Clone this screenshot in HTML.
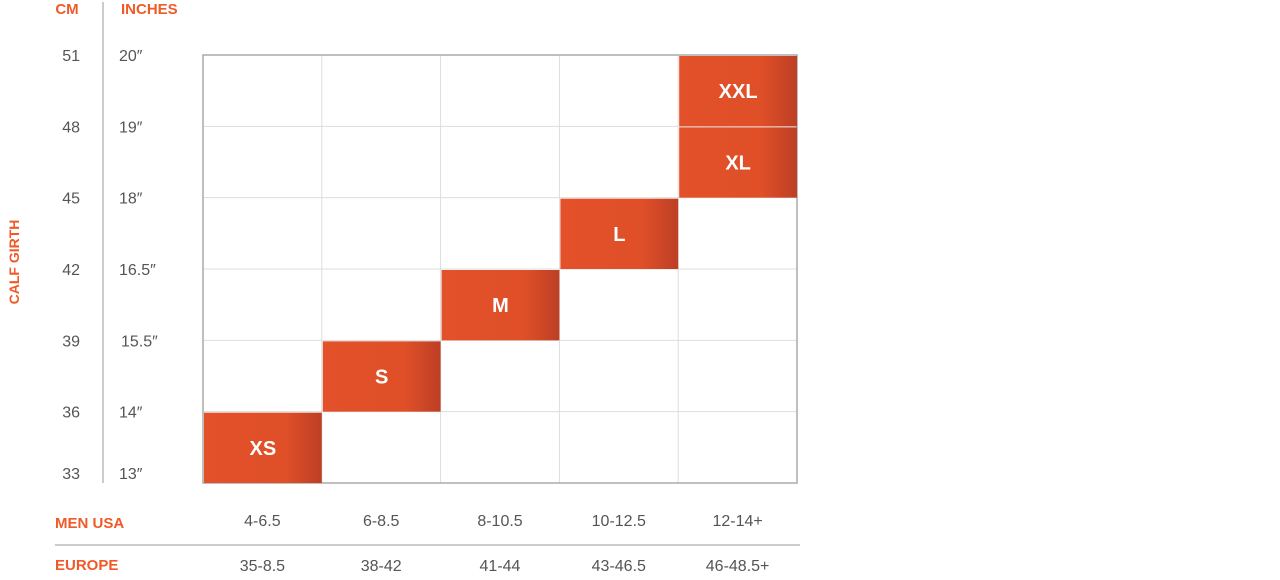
<!DOCTYPE html>
<html><head><meta charset="utf-8"><style>
body{margin:0;background:#fff;width:1280px;height:575px;overflow:hidden;font-family:"Liberation Sans",sans-serif}
</style></head><body>
<svg width="1280" height="575">
<defs><linearGradient id="g" x1="0" x2="1"><stop offset="0" stop-color="#e3512a"/><stop offset="0.7" stop-color="#df4f28"/><stop offset="1" stop-color="#bd3f25"/></linearGradient></defs>
<g id="grid"></g><g id="blocks"></g><g id="labels"></g>
<line x1="103" y1="2" x2="103" y2="483" stroke="#bbb" stroke-width="1.5"/>
<text x="67" y="14" text-anchor="middle" fill="#f05a28" font-weight="bold" font-size="15">CM</text>
<text x="121" y="14" fill="#f05a28" font-weight="bold" font-size="15">INCHES</text>
<text transform="translate(19,262) rotate(-90)" text-anchor="middle" fill="#f05a28" font-weight="bold" font-size="14">CALF GIRTH</text>
<text x="55" y="528" fill="#f05a28" font-weight="bold" font-size="15">MEN USA</text>
<line x1="55" y1="545" x2="800" y2="545" stroke="#bbb" stroke-width="1.5"/>
<text x="55" y="570" fill="#f05a28" font-weight="bold" font-size="15">EUROPE</text>
</svg>
<script>
const cmTicks=["33","36","39","42","45","48","51"];
const inTicks=["13″","14″","15.5″","16.5″","18″","19″","20″"];
const usaSizes=["4-6.5","6-8.5","8-10.5","10-12.5","12-14+"];
const euSizes=["35-8.5","38-42","41-44","43-46.5","46-48.5+"];
const sizeNames=["XS","S","M","L","XL","XXL"];
const sizeCols=[0,1,2,3,4,4];
const sizeRows=[0,1,2,3,4,5];
const NS="http://www.w3.org/2000/svg";
const X0=203,X1=797,Y0=483,Y1=55,nC=usaSizes.length,nR=cmTicks.length-1;
const xs=i=>X0+(X1-X0)*i/nC, ys=j=>Y0-(Y0-Y1)*j/nR;
function mk(p,t,a){const e=document.createElementNS(NS,t);for(const k in a)e.setAttribute(k,a[k]);p.appendChild(e);return e;}
const grid=document.getElementById('grid'),bl=document.getElementById('blocks'),lb=document.getElementById('labels');
for(let i=1;i<nC;i++){const l=mk(grid,'line',{x1:xs(i),y1:Y1,x2:xs(i),y2:Y0,stroke:'#ddd'});

}
for(let j=1;j<nR;j++){const l=mk(grid,'line',{x1:X0,y1:ys(j),x2:X1,y2:ys(j),stroke:'#ddd'});

}
const fr=mk(grid,'rect',{x:X0,y:Y1,width:X1-X0,height:Y0-Y1,fill:'none',stroke:'#aaa','stroke-width':1.5});


sizeNames.forEach((n,k)=>{const c=sizeCols[k],r=sizeRows[k];
const x=xs(c)+1,y=ys(r+1)+1,w=xs(c+1)-xs(c)-1,h=ys(r)-ys(r+1)-1;
const g=mk(bl,'g',{});


mk(g,'rect',{x,y,width:w,height:h,fill:'url(#g)'});
const t=mk(g,'text',{x:x+w/2,y:y+h/2+7,'text-anchor':'middle',fill:'#fff','font-weight':'bold','font-size':20});t.textContent=n;});
cmTicks.forEach((v,j)=>{const y=(j==0?473:ys(j))+6;
const t=mk(lb,'text',{x:80,y,'text-anchor':'end',fill:'#555','font-size':16});t.textContent=v;


const u=mk(lb,'text',{x:(v=="39"?121:119),y,fill:'#555','font-size':16});u.textContent=inTicks[j];

});
usaSizes.forEach((v,i)=>{const cx=(xs(i)+xs(i+1))/2;
const t=mk(lb,'text',{x:cx,y:526,'text-anchor':'middle',fill:'#555','font-size':16});t.textContent=v;


const u=mk(lb,'text',{x:cx,y:571,'text-anchor':'middle',fill:'#555','font-size':16});u.textContent=euSizes[i];

});
</script>
</body></html>
